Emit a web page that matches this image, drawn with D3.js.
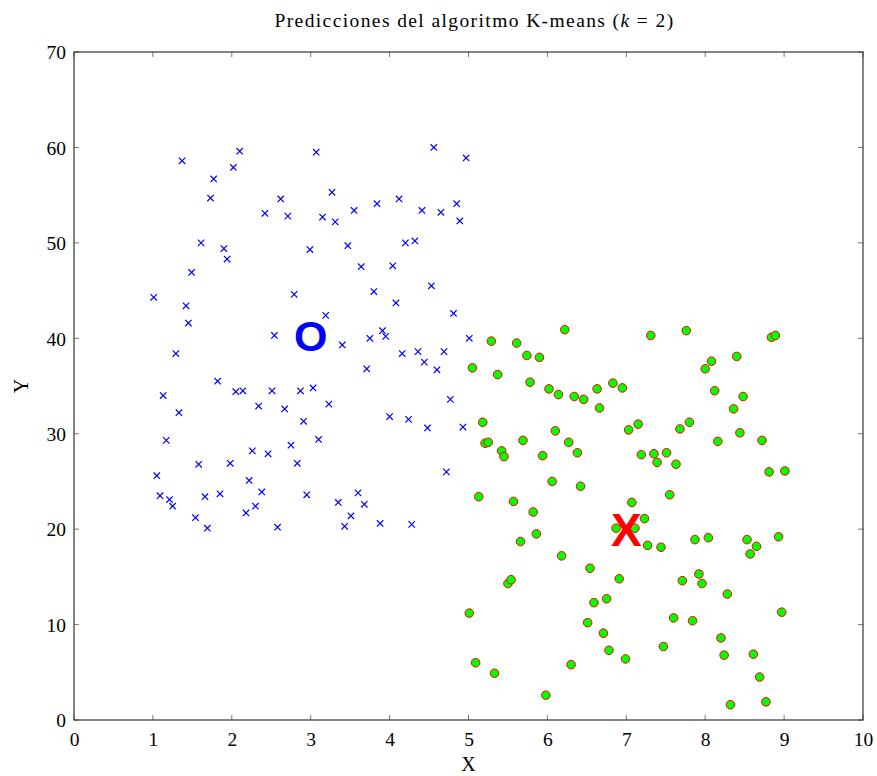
<!DOCTYPE html>
<html>
<head>
<meta charset="utf-8">
<script src="https://cdn.jsdelivr.net/npm/d3@7"></script>
<style>
  html, body { margin: 0; padding: 0; background: #fff; }
  svg { display: block; }
</style>
</head>
<body>
<svg id="chart" width="877" height="776"></svg>
<script>
// ---- Data ----
const blueX = [1.37,2.10,2.02,1.77,1.73,3.07,2.62,2.42,2.71,1.61,1.90,1.94,2.99,1.49,1.01,1.42,1.45,2.79,2.54,4.56,
  4.97,3.27,3.84,4.12,3.55,3.15,3.31,4.41,4.65,4.85,4.89,3.47,4.20,4.32,3.64,4.04,3.80,4.53,4.08,3.19,
  4.81,3.75,3.91,3.95,5.01,1.29,1.82,1.13,2.05,2.14,2.51,2.87,3.03,1.33,2.34,2.67,2.91,3.10,1.17,2.26,
  2.46,2.75,1.58,1.98,2.83,1.05,2.22,1.09,1.21,1.25,1.66,1.85,2.38,2.95,2.30,2.18,1.54,1.69,2.58,3.40,
  4.16,4.36,4.69,4.44,4.60,3.71,3.23,4.77,4.00,4.24,4.48,4.93,4.72,3.60,3.35,3.68,3.51,3.43,3.88,4.28];
const blueY = [58.6,59.6,57.9,56.7,54.7,59.5,54.6,53.1,52.8,50.0,49.4,48.3,49.3,46.9,44.3,43.4,41.6,44.6,40.3,60.0,
  58.9,55.3,54.1,54.6,53.4,52.7,52.2,53.4,53.2,54.1,52.3,49.7,50.0,50.2,47.5,47.6,44.9,45.5,43.7,42.4,
  42.6,40.0,40.8,40.2,40.0,38.4,35.5,34.0,34.4,34.5,34.5,34.5,34.8,32.2,32.9,32.6,31.3,29.4,29.3,28.2,
  27.9,28.8,26.8,26.9,26.9,25.6,25.1,23.5,23.1,22.4,23.4,23.7,23.9,23.6,22.4,21.7,21.2,20.1,20.2,39.3,
  38.4,38.6,38.6,37.5,36.7,36.8,33.1,33.6,31.8,31.5,30.6,30.7,26.0,23.8,22.8,22.6,21.4,20.3,20.6,20.5];

const greenX = [6.22,5.29,5.61,5.74,5.90,5.05,5.37,5.78,6.02,6.14,6.34,6.46,6.63,6.83,6.95,6.66,5.18,5.21,5.25,5.69,
  6.10,6.27,7.03,5.42,5.45,5.94,6.38,6.06,6.42,5.13,5.57,5.82,7.07,7.31,7.76,8.84,8.89,8.40,8.08,8.00,
  8.12,8.48,8.36,7.15,7.68,7.80,8.16,8.44,8.72,7.19,7.35,7.51,7.39,7.63,8.81,9.01,7.55,7.23,6.87,7.11,
  5.86,5.66,6.18,6.54,6.91,5.50,5.54,6.59,6.75,5.01,6.51,6.71,6.78,6.99,5.09,5.33,6.30,5.98,7.27,7.44,
  7.87,8.04,8.53,8.65,8.57,8.93,7.92,7.71,7.96,8.28,8.97,7.60,7.84,8.20,7.47,8.24,8.61,8.69,8.32,8.77];
const greenY = [40.9,39.7,39.5,38.2,38.0,36.9,36.2,35.4,34.7,34.1,33.9,33.6,34.7,35.3,34.8,32.7,31.2,29.0,29.1,29.3,
  30.3,29.1,30.4,28.2,27.6,27.7,28.0,25.0,24.5,23.4,22.9,21.8,22.8,40.3,40.8,40.1,40.3,38.1,37.6,36.8,
  34.5,33.9,32.6,31.0,30.5,31.2,29.2,30.1,29.3,27.8,27.9,28.0,27.0,26.8,26.0,26.1,23.6,21.1,20.1,20.1,
  19.5,18.7,17.2,15.9,14.8,14.3,14.7,12.3,12.7,11.2,10.2,9.1,7.3,6.4,6.0,4.9,5.8,2.6,18.3,18.1,
  18.9,19.1,18.9,18.2,17.4,19.2,15.3,14.6,14.3,13.2,11.3,10.7,10.4,8.6,7.7,6.8,6.9,4.5,1.6,1.9];

const centroidLabels = ["O", "X"];
const centroidX = [3.0, 7.0];
const centroidY = [40.2, 20.0];

const xTicks = [0,1,2,3,4,5,6,7,8,9,10];
const yTicks = [0,10,20,30,40,50,60,70];

const titleText = "Predicciones del algoritmo K-means (";
const xLabel = "X", yLabel = "Y";

// ---- Layout ----
const svg = d3.select("#chart");
const L = 74, R = 863, T = 52, B = 720;
const x = d3.scaleLinear().domain([0, 10]).range([L, R]);
const y = d3.scaleLinear().domain([0, 70]).range([B, T]);
const serif = "'Liberation Serif', 'DejaVu Serif', serif";
const tickLen = 5;

// frame ticks (inward, all sides)
const g = svg.append("g");
const tickStyle = sel => sel.attr("stroke", "#555").attr("stroke-width", 0.8);
xTicks.forEach(t => {
  g.append("line").attr("x1", x(t)).attr("x2", x(t)).attr("y1", B).attr("y2", B - tickLen).call(tickStyle);
  g.append("line").attr("x1", x(t)).attr("x2", x(t)).attr("y1", T).attr("y2", T + tickLen).call(tickStyle);
});
yTicks.forEach(t => {
  g.append("line").attr("x1", L).attr("x2", L + tickLen).attr("y1", y(t)).attr("y2", y(t)).call(tickStyle);
  g.append("line").attr("x1", R).attr("x2", R - tickLen).attr("y1", y(t)).attr("y2", y(t)).call(tickStyle);
});

// axis labels via d3 axes (text only)
const xAxis = d3.axisBottom(x).tickValues(xTicks).tickSize(0).tickPadding(12).tickFormat(d3.format("d"));
const yAxis = d3.axisLeft(y).tickValues(yTicks).tickSize(0).tickPadding(8).tickFormat(d3.format("d"));
const gx = svg.append("g").attr("transform", `translate(0,${B})`).call(xAxis);
const gy = svg.append("g").attr("transform", `translate(${L},0)`).call(yAxis);
[gx, gy].forEach(a => {
  a.select(".domain").remove();
  a.selectAll("text").attr("font-family", serif).attr("font-size", 19.5).attr("fill", "#000");
});
gy.selectAll("text").attr("dy", "0.35em");

// blue crosses
const cs = 3.2;
const crosses = svg.append("g").attr("stroke", "#0000ff").attr("stroke-width", 1.2);
blueX.forEach((bx, i) => {
  const px = x(bx), py = y(blueY[i]);
  crosses.append("path").attr("d", `M${px - cs},${py - cs}L${px + cs},${py + cs}M${px - cs},${py + cs}L${px + cs},${py - cs}`);
});

// green circles
svg.append("g").selectAll("circle").data(greenX).join("circle")
  .attr("cx", d => x(d)).attr("cy", (d, i) => y(greenY[i])).attr("r", 4.3)
  .attr("fill", "#00ff00").attr("stroke", "#ff0000").attr("stroke-width", 1);

// centroids
const cColors = ["#0000ff", "#ff0000"];
const cSizes = [43, 46];
const cOffset = [14.5, 16.5];
centroidLabels.forEach((lab, i) => {
  svg.append("text").attr("x", x(centroidX[i])).attr("y", y(centroidY[i]) + cOffset[i])
    .attr("text-anchor", "middle").attr("font-family", "'Liberation Sans', Arial, sans-serif")
    .attr("font-weight", "bold").attr("font-size", cSizes[i]).attr("fill", cColors[i]).text(lab);
});

// frame
svg.append("rect").attr("x", L).attr("y", T).attr("width", R - L).attr("height", B - T)
  .attr("fill", "none").attr("stroke", "#333").attr("stroke-width", 1.2);

// title
const title = svg.append("text").attr("x", (L + R) / 2 + 6).attr("y", 27).attr("text-anchor", "middle")
  .attr("font-family", serif).attr("font-size", 19.5).attr("letter-spacing", 1.4).attr("fill", "#000");
title.append("tspan").text(titleText);
title.append("tspan").attr("font-style", "italic").text("k");
title.append("tspan").text(" = 2)");

// axis titles
svg.append("text").attr("x", (L + R) / 2).attr("y", 771).attr("text-anchor", "middle")
  .attr("font-family", serif).attr("font-size", 20).text(xLabel);
svg.append("text").attr("transform", `translate(28,${(T + B) / 2}) rotate(-90)`).attr("text-anchor", "middle")
  .attr("font-family", serif).attr("font-size", 20).text(yLabel);
</script>
</body>
</html>
